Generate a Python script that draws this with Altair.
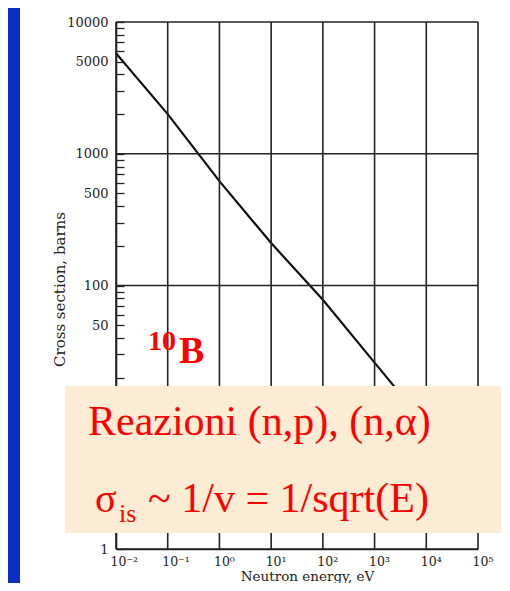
import altair as alt
import pandas as pd

# ---- data ----
energy_eV = [0.01, 0.1, 1, 10, 100, 1000, 10000, 100000]
sigma_barns = [5800, 2000, 620, 210, 78, 26, 8.7, 3.0]

x_decades = [0.01, 0.1, 1, 10, 100, 1000, 10000, 100000]
x_tick_labels = ["10⁻²", "10⁻¹", "10⁰", "10¹", "10²", "10³", "10⁴", "10⁵"]
y_decades = [1, 10, 100, 1000, 10000]
y_label_values = [1, 50, 100, 500, 1000, 5000, 10000]
y_minor = [m * d for d in [1, 10, 100, 1000] for m in range(2, 10)]

title_x = "Neutron energy, eV"
title_y = "Cross section, barns"
isotope_mass = "10"
isotope_symbol = "B"
box_line1 = "Reazioni (n,p), (n,α)"
box_sigma = "σ"
box_sub = "is"
box_rest = "~ 1/v = 1/sqrt(E)"

W, H = 362, 527
ink = "#232323"
red = "#ff0000"

xscale = alt.Scale(type="log", domain=[0.01, 100000], nice=False)
yscale = alt.Scale(type="log", domain=[1, 10000], nice=False)

df = pd.DataFrame({"E": energy_eV, "sigma": sigma_barns})
one = pd.DataFrame({"k": [0]})

label_arr = "[" + ",".join("'" + s + "'" for s in x_tick_labels) + "]"
y_tick_values = sorted(set(y_decades) | set(y_label_values) | set(y_minor))
y_label_arr = "[" + ",".join(str(v) for v in y_label_values) + "]"

xaxis = alt.Axis(
    values=x_decades, grid=False, ticks=False, zindex=0,
    labelExpr=label_arr + "[round(log(datum.value)/LN10)+2]",
    labelFont="DejaVu Serif", labelFontSize=12.5, labelColor=ink,
    labelAlign="left", labelOffset=-6, labelPadding=6, labelBaseline="top",
    domainColor=ink, domainWidth=1.6,
    title=title_x, titleFont="DejaVu Serif", titleFontSize=13.5,
    titleFontWeight="normal", titleColor=ink,
    titleX=191, titleY=31, titleBaseline="alphabetic", titleAlign="center",
)
# inward minor ticks come from the axis itself (negative tick size via expression)
yaxis = alt.Axis(
    values=y_tick_values, grid=False, zindex=0, format="d",
    ticks=True, tickSize={"expr": "-8"}, tickColor=ink, tickWidth=1.3,
    labelExpr="indexof(" + y_label_arr + ", datum.value) >= 0 ? datum.label : ''",
    labelFont="DejaVu Serif", labelFontSize=13, labelColor=ink,
    labelPadding=16,
    domainColor=ink, domainWidth=1.6,
    title=title_y, titleFont="DejaVu Serif", titleFontSize=15,
    titleFontWeight="normal", titleColor=ink,
    titleX=-52, titleY=267, titleBaseline="alphabetic", titleAlign="center",
    titleAngle=270,
)

# slide background strip on the left
blue = alt.Chart(one).mark_rect(color="#0b2fc0").encode(
    x=alt.value(-108), x2=alt.value(-96), y=alt.value(-14), y2=alt.value(561)
)

line = alt.Chart(df).mark_line(color="#111111", strokeWidth=2.2).encode(
    x=alt.X("E:Q", scale=xscale, axis=xaxis),
    y=alt.Y("sigma:Q", scale=yscale, axis=yaxis),
)

vgrid = alt.Chart(pd.DataFrame({"E": x_decades})).mark_rule(
    color=ink, strokeWidth=1.6
).encode(x=alt.X("E:Q", scale=xscale, axis=xaxis))

hgrid = alt.Chart(pd.DataFrame({"sigma": y_decades})).mark_rule(
    color=ink, strokeWidth=1.6
).encode(y=alt.Y("sigma:Q", scale=yscale, axis=yaxis))

label10 = alt.Chart(one).mark_text(
    text=isotope_mass, font="Liberation Serif", fontSize=28, fontWeight="bold",
    color=red, align="left", baseline="alphabetic"
).encode(x=alt.value(32), y=alt.value(328))
labelB = alt.Chart(one).mark_text(
    text=isotope_symbol, font="Liberation Serif", fontSize=38, fontWeight="bold",
    color=red, align="left", baseline="alphabetic"
).encode(x=alt.value(63), y=alt.value(341))

box = alt.Chart(one).mark_rect(color="#fbecd3").encode(
    x=alt.value(-51), x2=alt.value(389), y=alt.value(364), y2=alt.value(511)
)

def txt(s, size, x, y):
    return alt.Chart(one).mark_text(
        text=s, font="Liberation Serif", fontSize=size, color=red,
        align="left", baseline="alphabetic"
    ).encode(x=alt.value(x), y=alt.value(y))

t1 = txt(box_line1, 42, -28, 413)
t2 = txt(box_sigma, 40, -21, 490)
t3 = txt(box_sub, 26, 3, 500)
t4 = txt(box_rest, 42, 32, 490)

chart = alt.layer(
    blue, line, vgrid, hgrid, label10, labelB, box, t1, t2, t3, t4
).properties(
    width=W, height=H,
    padding={"left": 108, "top": 14, "right": 23, "bottom": 34},
    autosize=alt.AutoSizeParams(type="none"),
    background="white",
).configure_view(stroke=None)

chart.save("out.html", embed_options={"renderer": "svg", "actions": False})
